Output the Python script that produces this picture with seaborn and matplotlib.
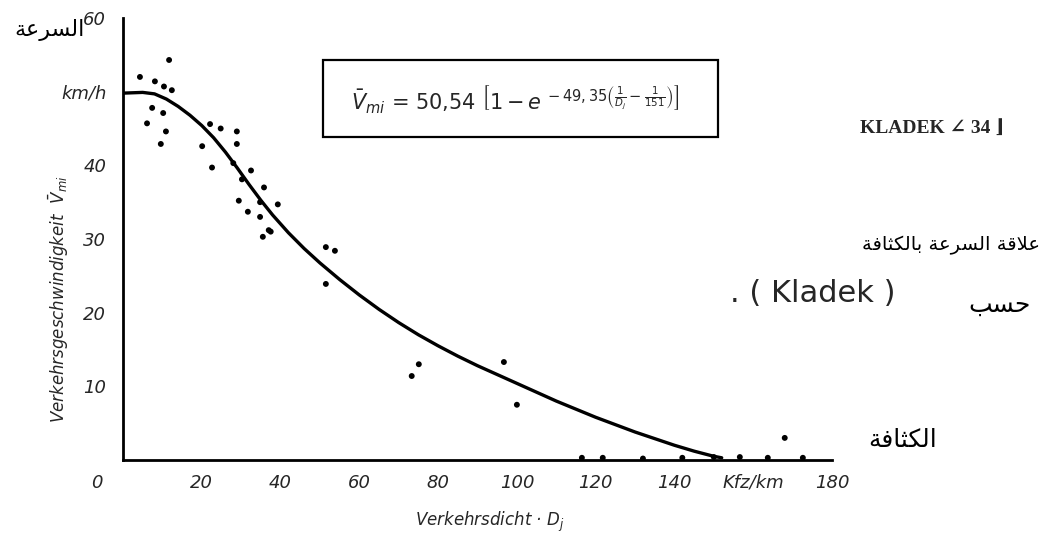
import matplotlib
matplotlib.use('Agg')
import matplotlib.pyplot as plt
import matplotlib.transforms as mtransforms
from matplotlib.patches import Rectangle
import seaborn as sns
import pandas as pd

# Fitted curve (density Kfz/km -> speed km/h)
curve_density = [0, 5, 8, 11, 14, 17, 20, 23, 26, 29, 32, 35, 38, 42, 46, 50, 55, 60, 65, 70,
                 75, 80, 85, 90, 95, 100, 105, 110, 115, 120, 125, 130, 135, 140, 145, 150, 152]
curve_speed = [49.8, 49.9, 49.7, 49.0, 48.0, 46.8, 45.4, 43.75, 41.8, 39.65, 37.4, 35.25, 33.25,
               30.85, 28.7, 26.75, 24.5, 22.4, 20.45, 18.65, 17.0, 15.5, 14.1, 12.8, 11.6, 10.4,
               9.2, 8.0, 6.9, 5.8, 4.8, 3.8, 2.9, 2.0, 1.2, 0.5, 0.3]

# Measured points
obs_density = [4.3, 6.1, 7.4, 8.1, 9.6, 10.2, 10.4, 10.9, 11.7, 12.4, 20.1, 22.1, 22.6, 24.8, 28.0,
               28.9, 28.9, 29.4, 30.2, 31.7, 32.5, 34.8, 34.8, 35.5, 35.8, 37.0, 37.5, 39.3, 51.5,
               51.5, 53.8, 73.3, 75.1, 96.7, 100.0, 116.5, 121.8, 132.0, 142.0, 150.0, 156.6, 163.7,
               168.0, 172.6]
obs_speed = [52.0, 45.7, 47.8, 51.4, 42.9, 47.1, 50.7, 44.6, 54.3, 50.2, 42.6, 45.6, 39.7, 45.0, 40.3,
             44.6, 42.9, 35.2, 38.1, 33.7, 39.3, 35.0, 33.0, 30.3, 37.0, 31.2, 31.0, 34.7, 28.9,
             23.9, 28.4, 11.4, 13.0, 13.3, 7.5, 0.3, 0.3, 0.2, 0.3, 0.4, 0.4, 0.3, 3.0, 0.3]

x_ticks = [0, 20, 40, 60, 80, 100, 120, 140, 160, 180]
x_labels = ['0', '20', '40', '60', '80', '100', '120', '140', 'Kfz/km', '180']
y_ticks = [10, 20, 30, 40, 50, 60]
y_labels = ['10', '20', '30', '40', 'km/h', '60']

# (isolated, final, initial, medial) presentation forms
AR_FORMS = {
    'ا': ('\uFE8D', '\uFE8E', None, None),
    'ب': ('\uFE8F', '\uFE90', '\uFE91', '\uFE92'),
    'ة': ('\uFE93', '\uFE94', None, None),
    'ث': ('\uFE99', '\uFE9A', '\uFE9B', '\uFE9C'),
    'ح': ('\uFEA1', '\uFEA2', '\uFEA3', '\uFEA4'),
    'ر': ('\uFEAD', '\uFEAE', None, None),
    'س': ('\uFEB1', '\uFEB2', '\uFEB3', '\uFEB4'),
    'ع': ('\uFEC9', '\uFECA', '\uFECB', '\uFECC'),
    'ف': ('\uFED1', '\uFED2', '\uFED3', '\uFED4'),
    'ق': ('\uFED5', '\uFED6', '\uFED7', '\uFED8'),
    'ك': ('\uFED9', '\uFEDA', '\uFEDB', '\uFEDC'),
    'ل': ('\uFEDD', '\uFEDE', '\uFEDF', '\uFEE0'),
}


def shape_arabic(text):
    """matplotlib does no Arabic shaping/bidi, so pick glyph forms and reverse"""
    chars = list(text)
    out = []
    i = 0
    while i < len(chars):
        c = chars[i]
        if c not in AR_FORMS:
            out.append(c)
            i += 1
            continue
        prev = chars[i - 1] if i > 0 else None
        nxt = chars[i + 1] if i + 1 < len(chars) else None
        joins_prev = prev in AR_FORMS and AR_FORMS[prev][2] is not None
        if c == 'ل' and nxt == 'ا':
            out.append('\uFEFC' if joins_prev else '\uFEFB')
            i += 2
            continue
        joins_next = nxt in AR_FORMS and AR_FORMS[c][2] is not None
        iso, fin, ini, med = AR_FORMS[c]
        if joins_prev and joins_next:
            out.append(med)
        elif joins_prev:
            out.append(fin)
        elif joins_next:
            out.append(ini)
        else:
            out.append(iso)
        i += 1
    return ''.join(reversed(out))


sns.set_style('white')
plt.rcParams['font.family'] = ['Liberation Sans Narrow', 'DejaVu Sans']
plt.rcParams['mathtext.fontset'] = 'dejavusans'
plt.rcParams['mathtext.default'] = 'it'

W, H = 1047, 533
fig = plt.figure(figsize=(W / 100, H / 100), dpi=100)
ax = fig.add_axes([123 / W, 1 - 460 / H, (832 - 123) / W, (460 - 18) / H])

df_curve = pd.DataFrame({'density': curve_density, 'speed': curve_speed})
df_obs = pd.DataFrame({'density': obs_density, 'speed': obs_speed})

sns.lineplot(data=df_curve, x='density', y='speed', color='black', linewidth=2.4,
             solid_joinstyle='round', ax=ax)
sns.scatterplot(data=df_obs, x='density', y='speed', color='black', s=18, edgecolor='none', ax=ax)

ax.set_xlim(0, 180)
ax.set_ylim(0, 60)
ax.set_xticks(x_ticks)
ax.set_xticklabels(x_labels, fontstyle='italic', fontsize=13)
ax.set_yticks(y_ticks)
ax.set_yticklabels(y_labels, fontstyle='italic', fontsize=13)
ax.tick_params(direction='in', length=9, width=1.4, color='black', pad=10)
ax.tick_params(axis='y', pad=12)

# "0" sits left of the origin in the scan
offset = mtransforms.ScaledTranslation(-0.26, 0, fig.dpi_scale_trans)
lbl0 = ax.get_xticklabels()[0]
lbl0.set_transform(lbl0.get_transform() + offset)

for side in ['top', 'right']:
    ax.spines[side].set_visible(False)
for side in ['left', 'bottom']:
    ax.spines[side].set_color('black')
    ax.spines[side].set_linewidth(2)

ax.set_xlabel(r'Verkehrsdicht · $D_j$', fontstyle='italic', fontsize=12)
ax.xaxis.set_label_coords(0.518, -0.113)
ax.set_ylabel(r'Verkehrsgeschwindigkeit  $\bar{V}_{mi}$', fontstyle='italic', fontsize=12)
ax.yaxis.set_label_coords(-0.073, 0.364)

# formula box
fig.patches.append(Rectangle((323 / W, 1 - 137 / H), (718 - 323) / W, (137 - 60) / H,
                             transform=fig.transFigure, fill=False, edgecolor='black', linewidth=1.6))
fig.text(515 / W, 1 - 100 / H,
         r'$\bar{V}_{mi}$ = 50,54 $\left[1-e^{\,-49,35\left(\frac{1}{D_j}-\frac{1}{151}\right)}\right]$',
         ha='center', va='center', fontsize=15)

fig.text(932 / W, 1 - 128 / H, 'KLADEK ∠ 34 ⌋', ha='center', va='center', fontsize=14,
         fontweight='bold', family=['Liberation Serif', 'DejaVu Serif', 'DejaVu Sans'])

ar = dict(ha='center', va='center', family=['DejaVu Sans'], color='black')
fig.text(50 / W, 1 - 30 / H, shape_arabic('السرعة'), fontsize=16, **ar)
fig.text(951 / W, 1 - 245 / H, shape_arabic('علاقة السرعة بالكثافة'), fontsize=14, **ar)
fig.text(1000 / W, 1 - 305 / H, shape_arabic('حسب'), fontsize=18, **ar)
fig.text(903 / W, 1 - 440 / H, shape_arabic('الكثافة'), fontsize=18, **ar)
fig.text(813 / W, 1 - 293 / H, '. ( Kladek )', ha='center', va='center', fontsize=22,
         family=['DejaVu Sans'])

fig.savefig('out.png', dpi=100)
